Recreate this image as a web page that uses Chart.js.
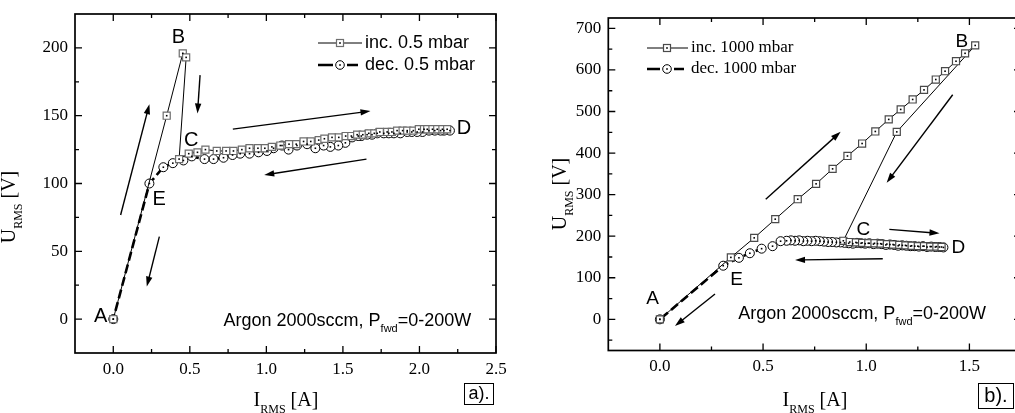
<!DOCTYPE html>
<html>
<head>
<meta charset="utf-8">
<script src="https://cdn.jsdelivr.net/npm/chart.js@4"></script>
<style>
  html, body { margin: 0; padding: 0; overflow: hidden; background: #fff; width: 1015px; height: 413px; }
  #ca { position: absolute; left: 0; top: 0; }
  #cb { position: absolute; left: 515px; top: 0; }
</style>
</head>
<body>
<canvas id="ca" width="510" height="413"></canvas>
<canvas id="cb" width="525" height="413"></canvas>
<script>
// panel a) 0.5 mbar
const incXa = [0, 0.349, 0.454, 0.476, 0.43, 0.493, 0.55, 0.602, 0.676, 0.737, 0.785, 0.84, 0.89, 0.945, 0.99, 1.036, 1.091, 1.148, 1.195, 1.243, 1.29, 1.342, 1.379, 1.429, 1.473, 1.518, 1.555, 1.593, 1.63, 1.669, 1.705, 1.741, 1.789, 1.82, 1.854, 1.89, 1.92, 1.96, 1.996, 2.03, 2.051, 2.085, 2.116, 2.15, 2.181];
const incYa = [0, 150, 196, 193, 118, 122, 123, 125, 124, 124, 124, 125, 126, 126, 126, 127, 128, 129, 129, 131, 131, 132, 133, 134, 134, 135, 135, 136, 136, 137, 137, 138, 138, 138, 139, 139, 139, 139, 140, 140, 140, 140, 140, 140, 140];
const decXa = [2.199, 2.16, 2.138, 2.1, 2.062, 2.02, 1.985, 1.95, 1.92, 1.875, 1.833, 1.8, 1.767, 1.724, 1.69, 1.658, 1.62, 1.6, 1.56, 1.516, 1.47, 1.418, 1.374, 1.32, 1.266, 1.2, 1.145, 1.102, 1.047, 1.004, 0.949, 0.89, 0.829, 0.779, 0.72, 0.655, 0.596, 0.513, 0.458, 0.389, 0.327, 0.236, 0];
const decYa = [139, 139, 139, 139, 139, 138, 138, 138, 138, 137, 137, 137, 137, 137, 136, 136, 135, 135, 134, 130, 128, 127, 128, 126, 129, 128, 125, 128, 126, 124, 123, 122, 122, 121, 119, 118, 118, 120, 117, 115, 112, 100, 0];
const xTicksA = [0, 0.5, 1, 1.5, 2, 2.5];
const yTicksA = [0, 50, 100, 150, 200];

// panel b) 1000 mbar
const incXb = [0, 0.344, 0.457, 0.559, 0.668, 0.757, 0.837, 0.909, 0.98, 1.044, 1.109, 1.167, 1.225, 1.28, 1.337, 1.382, 1.435, 1.479, 1.528, 1.148, 0.889, 0.92, 0.95, 0.98, 1.01, 1.04, 1.07, 1.1, 1.13, 1.16, 1.19, 1.22, 1.25, 1.28, 1.31, 1.34, 1.365];
const incYb = [0, 149, 196, 241, 289, 326, 362, 393, 423, 452, 481, 505, 529, 552, 577, 597, 621, 640, 659, 451, 189, 186, 185, 184, 183, 183, 182, 181, 180, 179, 178, 177, 176, 176, 175, 175, 174];
const decXb = [1.374, 1.355, 1.335, 1.315, 1.295, 1.275, 1.255, 1.235, 1.215, 1.195, 1.175, 1.155, 1.135, 1.115, 1.095, 1.075, 1.055, 1.035, 1.015, 0.995, 0.975, 0.955, 0.935, 0.915, 0.895, 0.875, 0.855, 0.835, 0.815, 0.795, 0.775, 0.755, 0.735, 0.715, 0.695, 0.675, 0.655, 0.635, 0.614, 0.585, 0.546, 0.493, 0.436, 0.383, 0.307, 0];
const decYb = [173, 174, 174, 175, 174, 176, 175, 176, 176, 177, 178, 177, 179, 180, 179, 181, 182, 181, 183, 182, 183, 184, 182, 183, 184, 185, 185, 186, 186, 187, 188, 189, 188, 189, 188, 190, 189, 190, 189, 188, 176, 170, 159, 148, 129, 0];
const xTicksB = [0, 0.5, 1, 1.5];
const yTicksB = [0, 100, 200, 300, 400, 500, 600, 700];

const SERIF = '"Liberation Serif", "Times New Roman", serif';
const SANS = '"Liberation Sans", Arial, sans-serif';

const pts = (xs, ys) => xs.map((x, i) => ({ x: x, y: ys[i] }));

function richText(ctx, x, y, parts, align) {
  let w = 0;
  parts.forEach(p => { ctx.font = p.font; p.w = ctx.measureText(p.t).width; w += p.w; });
  let cx = align === 'center' ? x - w / 2 : x;
  ctx.textAlign = 'left';
  ctx.textBaseline = 'alphabetic';
  parts.forEach(p => { ctx.font = p.font; ctx.fillText(p.t, cx, y + (p.dy || 0)); cx += p.w; });
}

function arrow(ctx, x1, y1, x2, y2) {
  const a = Math.atan2(y2 - y1, x2 - x1);
  const hl = 10, hw = 3.2;
  ctx.beginPath();
  ctx.moveTo(x1, y1);
  ctx.lineTo(x2 - hl * 0.8 * Math.cos(a), y2 - hl * 0.8 * Math.sin(a));
  ctx.lineWidth = 1.4;
  ctx.stroke();
  ctx.beginPath();
  ctx.moveTo(x2, y2);
  ctx.lineTo(x2 - hl * Math.cos(a) + hw * Math.sin(a), y2 - hl * Math.sin(a) - hw * Math.cos(a));
  ctx.lineTo(x2 - hl * Math.cos(a) - hw * Math.sin(a), y2 - hl * Math.sin(a) + hw * Math.cos(a));
  ctx.closePath();
  ctx.fill();
}

function minors(major, min, max) {
  const step = major[1] - major[0];
  const out = [];
  for (let v = major[0] - step / 2; v < max; v += step) if (v > min) out.push(v);
  return out;
}

const paper = {
  id: 'paper',
  afterDatasetsDraw(chart) {
    const ctx = chart.ctx;
    ctx.save();
    ctx.fillStyle = '#000';
    chart.data.datasets.forEach((ds, i) => {
      chart.getDatasetMeta(i).data.forEach(el => ctx.fillRect(el.x - 0.8, el.y - 0.8, 1.6, 1.6));
    });
    ctx.restore();
  },
  afterDraw(chart, args, o) {
    const ctx = chart.ctx;
    const a = chart.chartArea;
    const xs = chart.scales.x, ys = chart.scales.y;
    ctx.save();
    ctx.strokeStyle = '#000';
    ctx.fillStyle = '#000';
    // frame
    ctx.lineWidth = 1.7;
    ctx.strokeRect(a.left, a.top, a.right - a.left, a.bottom - a.top);
    // inward ticks on all four sides
    ctx.lineWidth = 1.3;
    ctx.beginPath();
    const tx = (v, len) => {
      const p = xs.getPixelForValue(v);
      ctx.moveTo(p, a.bottom); ctx.lineTo(p, a.bottom - len);
      ctx.moveTo(p, a.top); ctx.lineTo(p, a.top + len);
    };
    const ty = (v, len) => {
      const p = ys.getPixelForValue(v);
      ctx.moveTo(a.left, p); ctx.lineTo(a.left + len, p);
      ctx.moveTo(a.right, p); ctx.lineTo(a.right - len, p);
    };
    o.xTicks.forEach(v => tx(v, 7));
    minors(o.xTicks, xs.min, xs.max).forEach(v => tx(v, 4));
    o.yTicks.forEach(v => ty(v, 7));
    minors(o.yTicks, ys.min, ys.max).forEach(v => ty(v, 4));
    ctx.stroke();
    // arrows
    o.arrows.forEach(r => arrow(ctx, xs.getPixelForValue(r[0]), ys.getPixelForValue(r[1]),
      xs.getPixelForValue(r[2]), ys.getPixelForValue(r[3])));
    // point letters
    ctx.font = o.letterFont;
    ctx.textAlign = 'center';
    ctx.textBaseline = 'middle';
    o.letters.forEach(l => ctx.fillText(l[0], xs.getPixelForValue(l[1]), ys.getPixelForValue(l[2])));
    // conditions note
    richText(ctx, xs.getPixelForValue(o.note.x), ys.getPixelForValue(o.note.y), [
      { t: 'Argon 2000sccm, P', font: '18px ' + SANS },
      { t: 'fwd', font: '11px ' + SANS, dy: o.note.sub },
      { t: '=0-200W', font: '18px ' + SANS }
    ], 'left');
    // legend
    const lg = o.legend;
    lg.items.forEach((it, i) => {
      const y = lg.rows[i];
      ctx.beginPath();
      if (it.kind === 'inc') {
        ctx.lineWidth = 1;
        ctx.moveTo(lg.x0, y); ctx.lineTo(lg.x1, y); ctx.stroke();
        ctx.fillStyle = '#fff';
        ctx.fillRect(lg.mx - 3.5, y - 3.5, 7, 7);
        ctx.strokeStyle = o.sqColor;
        ctx.lineWidth = 1.2;
        ctx.strokeRect(lg.mx - 3.5, y - 3.5, 7, 7);
      } else {
        ctx.lineWidth = 2.6;
        ctx.moveTo(lg.x0, y); ctx.lineTo(lg.mx - 7, y);
        ctx.moveTo(lg.mx + 7, y); ctx.lineTo(lg.x1 - 4, y);
        ctx.stroke();
        ctx.beginPath();
        ctx.fillStyle = '#fff';
        ctx.lineWidth = 1;
        ctx.arc(lg.mx, y, 4.3, 0, Math.PI * 2);
        ctx.fill(); ctx.stroke();
      }
      ctx.strokeStyle = '#000';
      ctx.fillStyle = '#000';
      ctx.fillRect(lg.mx - 0.8, y - 0.8, 1.6, 1.6);
      ctx.font = lg.font;
      ctx.textAlign = 'left';
      ctx.textBaseline = 'middle';
      ctx.fillText(it.label, lg.tx, y);
    });
    // axis titles
    const big = '20px ' + SERIF, small = '12px ' + SERIF;
    richText(ctx, o.xTitle[0], o.xTitle[1], [
      { t: 'I', font: big }, { t: 'RMS', font: small, dy: 7 }, { t: ' [A]', font: big }
    ], 'center');
    ctx.save();
    ctx.translate(o.yTitle[0], o.yTitle[1]);
    ctx.rotate(-Math.PI / 2);
    richText(ctx, 0, 0, [
      { t: 'U', font: big }, { t: 'RMS', font: small, dy: 7 }, { t: ' [V]', font: big }
    ], 'center');
    ctx.restore();
    // panel label
    const pb = o.panel;
    ctx.lineWidth = 1;
    ctx.strokeRect(pb.x + 0.5, pb.y + 0.5, pb.w, pb.h);
    ctx.font = pb.font;
    ctx.textAlign = 'center';
    ctx.textBaseline = 'middle';
    ctx.fillText(pb.text, pb.x + pb.w / 2 + 0.5, pb.y + pb.h / 2 + 1);
    ctx.restore();
  }
};

function makeChart(id, d) {
  return new Chart(document.getElementById(id), {
    type: 'scatter',
    data: {
      datasets: [
        {
          label: d.incLabel,
          data: pts(d.incX, d.incY),
          showLine: true,
          borderColor: '#000',
          borderWidth: 1,
          pointStyle: 'rect',
          pointRadius: 5,
          pointBorderWidth: 1.2,
          pointBorderColor: d.sqColor,
          pointBackgroundColor: '#fff'
        },
        {
          label: d.decLabel,
          data: pts(d.decX, d.decY),
          showLine: true,
          borderColor: '#000',
          borderWidth: 2.6,
          borderDash: [9, 4],
          pointStyle: 'circle',
          pointRadius: 4.5,
          pointBorderWidth: 1,
          pointBorderColor: '#000',
          pointBackgroundColor: '#fff'
        }
      ]
    },
    options: {
      responsive: false,
      animation: false,
      devicePixelRatio: 1,
      layout: { padding: d.padding },
      scales: {
        x: {
          type: 'linear',
          min: d.xMin, max: d.xMax,
          grid: { display: false, drawTicks: false },
          border: { display: false },
          afterBuildTicks: s => { s.ticks = d.xTicks.map(v => ({ value: v })); },
          afterFit: s => { s.height = d.xAxisH; s.paddingLeft = 0; s.paddingRight = 0; },
          ticks: {
            color: '#000', padding: 6, maxRotation: 0, autoSkip: false,
            font: { family: SERIF, size: 17 },
            callback: v => Number(v).toFixed(1)
          }
        },
        y: {
          type: 'linear',
          min: d.yMin, max: d.yMax,
          grid: { display: false, drawTicks: false },
          border: { display: false },
          afterBuildTicks: s => { s.ticks = d.yTicks.map(v => ({ value: v })); },
          afterFit: s => { s.width = d.yAxisW; s.paddingTop = 0; s.paddingBottom = 0; },
          ticks: {
            color: '#000', padding: 7, autoSkip: false,
            font: { family: SERIF, size: 17 },
            callback: v => String(v)
          }
        }
      },
      plugins: {
        legend: { display: false },
        tooltip: { enabled: false },
        paper: {
          xTicks: d.xTicks, yTicks: d.yTicks, sqColor: d.sqColor,
          arrows: d.arrows, letters: d.letters, letterFont: d.letterFont,
          note: d.note, legend: d.legend, xTitle: d.xTitle, yTitle: d.yTitle, panel: d.panel
        }
      }
    },
    plugins: [paper]
  });
}

makeChart('ca', {
  incX: incXa, incY: incYa, decX: decXa, decY: decYa,
  incLabel: 'inc. 0.5 mbar', decLabel: 'dec. 0.5 mbar',
  xTicks: xTicksA, yTicks: yTicksA,
  xMin: -0.25, xMax: 2.5, yMin: -25, yMax: 225,
  padding: { left: 0, top: 14, right: 14, bottom: 0 },
  xAxisH: 60, yAxisW: 75,
  sqColor: '#6e6e6e',
  arrows: [
    [0.048, 76.8, 0.236, 158.5],
    [0.567, 179.9, 0.55, 151.7],
    [0.781, 140.1, 1.68, 153.4],
    [1.654, 118, 0.986, 106.3],
    [0.301, 60.8, 0.219, 24]
  ],
  letters: [['A', -0.082, 2], ['B', 0.425, 208], ['C', 0.509, 132], ['D', 2.29, 140.6], ['E', 0.299, 88]],
  letterFont: '20px ' + SANS,
  note: { x: 0.72, y: -5, sub: 6 },
  legend: {
    items: [{ label: 'inc. 0.5 mbar', kind: 'inc' }, { label: 'dec. 0.5 mbar', kind: 'dec' }],
    x0: 318, x1: 362, mx: 340, tx: 365, rows: [43, 65], font: '18px ' + SANS
  },
  xTitle: [286, 406],
  yTitle: [15, 207],
  panel: { x: 464, y: 383, w: 29, h: 21, text: 'a).', font: '18px ' + SANS }
});

makeChart('cb', {
  incX: incXb, incY: incYb, decX: decXb, decY: decYb,
  incLabel: 'inc. 1000 mbar', decLabel: 'dec. 1000 mbar',
  xTicks: xTicksB, yTicks: yTicksB,
  xMin: -0.25, xMax: 1.75, yMin: -75, yMax: 725,
  padding: { left: 0, top: 18, right: 19, bottom: 0 },
  xAxisH: 62.5, yAxisW: 93.3,
  sqColor: '#4a4a4a',
  arrows: [
    [0.513, 288.7, 0.876, 451.3],
    [1.419, 540.3, 1.099, 328.6],
    [1.112, 216.5, 1.355, 206.9],
    [1.08, 145.8, 0.655, 142.7],
    [0.267, 60.9, 0.073, -16.1]
  ],
  letters: [['A', -0.035, 50.5], ['B', 1.463, 668], ['C', 0.986, 216.5], ['D', 1.447, 173], ['E', 0.372, 94.5]],
  letterFont: '19px ' + SANS,
  note: { x: 0.38, y: 0, sub: 6 },
  legend: {
    items: [{ label: 'inc. 1000 mbar', kind: 'inc' }, { label: 'dec. 1000 mbar', kind: 'dec' }],
    x0: 132, x1: 173, mx: 152, tx: 176, rows: [48, 69], font: '17px ' + SERIF
  },
  xTitle: [300, 406],
  yTitle: [51, 194],
  panel: { x: 463, y: 383, w: 35, h: 25, text: 'b).', font: '20px ' + SANS }
});
</script>
</body>
</html>
